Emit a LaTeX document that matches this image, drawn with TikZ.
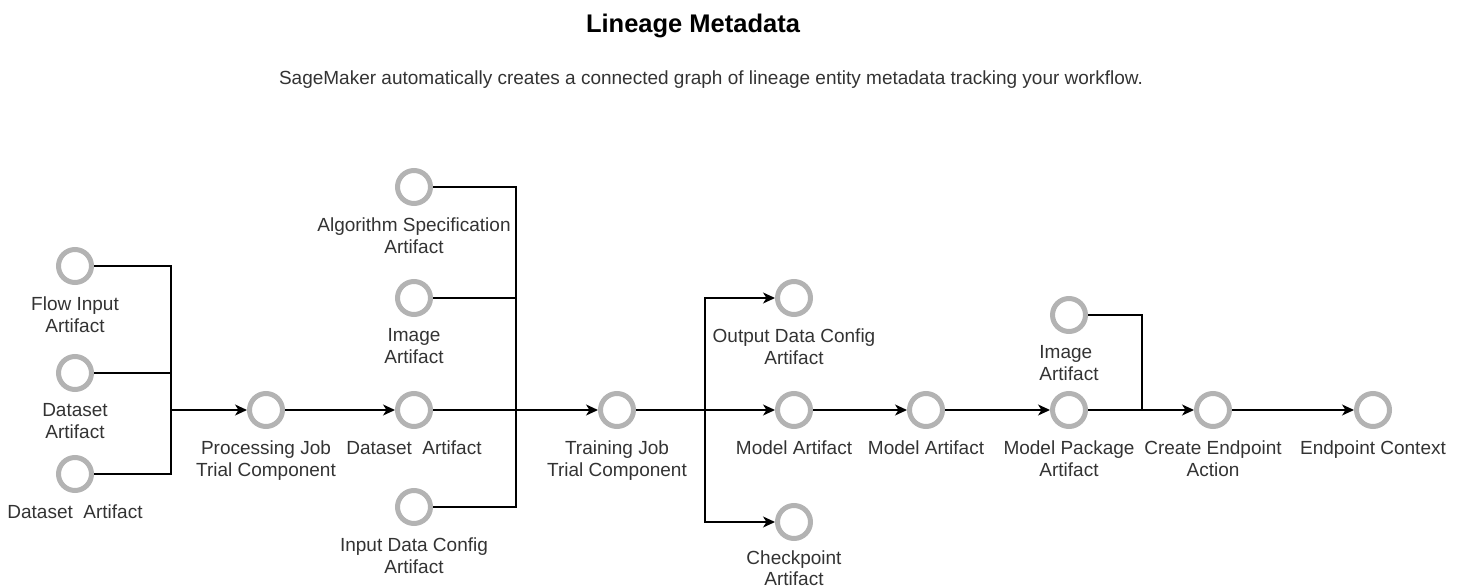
\documentclass[tikz,border=0pt]{standalone}
\usepackage{fontspec}
\setmainfont{Liberation Sans}
\usetikzlibrary{positioning,arrows.meta}
\definecolor{ringgray}{RGB}{179,179,179}
\definecolor{labelgray}{RGB}{51,51,51}
\begin{document}
\begin{tikzpicture}[x=1pt, y=-1pt, line width=1.5pt,
  ring/.style={circle, draw=ringgray, fill=white, line width=5pt, minimum size=33pt, inner sep=0pt},
  lbl/.style={below=11pt of #1, align=center, inner sep=0pt, text=labelgray, font=\fontsize{19}{22}\selectfont},
  arr/.style={-{Stealth[length=12pt, width=11pt, inset=3.5pt]}}]
  \useasboundingbox (0,0) rectangle (1465,588);
  \node[anchor=base, font=\fontsize{25.5}{30}\selectfont\bfseries] (title) at (693,33) {Lineage Metadata};
  \node[anchor=base, text=labelgray, font=\fontsize{19}{22}\selectfont] (subtitle) at (711,85) {SageMaker automatically creates a connected graph of lineage entity metadata tracking your workflow.};
  \node[ring] (fi) at (75,266) {};
  \node[ring] (ds1) at (75,373) {};
  \node[ring] (ds2) at (75,474) {};
  \node[ring] (pj) at (266,410) {};
  \node[ring] (alg) at (414,187) {};
  \node[ring] (img1) at (414,298) {};
  \node[ring] (ds3) at (414,410) {};
  \node[ring] (idc) at (414,507) {};
  \node[ring] (tj) at (617,410) {};
  \node[ring] (odc) at (794,298) {};
  \node[ring] (ma1) at (794,410) {};
  \node[ring] (cp) at (794,522) {};
  \node[ring] (ma2) at (926,410) {};
  \node[ring] (img2) at (1069,315) {};
  \node[ring] (mp) at (1069,410) {};
  \node[ring] (ce) at (1213,410) {};
  \node[ring] (ec) at (1373,410) {};
  \node[lbl=fi] (fil) {Flow Input\\Artifact};
  \node[lbl=ds1] (ds1l) {Dataset\\Artifact};
  \node[lbl=ds2] (ds2l) {Dataset\ \ Artifact};
  \node[lbl=pj] (pjl) {Processing Job\\Trial Component};
  \node[lbl=alg] (algl) {Algorithm Specification\\Artifact};
  \node[lbl=img1] (img1l) {Image\\Artifact};
  \node[lbl=ds3] (ds3l) {Dataset\ \ Artifact};
  \node[lbl=idc] (idcl) {Input Data Config\\Artifact};
  \node[lbl=tj] (tjl) {Training Job\\Trial Component};
  \node[lbl=odc] (odcl) {Output Data Config\\Artifact};
  \node[lbl=ma1] (ma1l) {Model Artifact};
  \node[lbl=cp, yshift=2pt, font=\fontsize{19}{21}\selectfont] (cpl) {Checkpoint\\Artifact};
  \node[lbl=ma2] (ma2l) {Model Artifact};
  \node[lbl=img2, align=left] (img2l) {Image\\Artifact};
  \node[lbl=mp] (mpl) {Model Package\\Artifact};
  \node[lbl=ce] (cel) {Create Endpoint\\Action};
  \node[lbl=ec] (ecl) {Endpoint Context};
  \coordinate (j1) at (171,410);
  \draw (fi.east) -| (j1);
  \draw (ds1.east) -| (j1);
  \draw (ds2.east) -| (j1);
  \draw[arr] (j1) -- (pj);
  \draw[arr] (pj) -- (ds3);
  \coordinate (j2) at (516,410);
  \draw (alg.east) -| (j2);
  \draw (img1.east) -| (j2);
  \draw (idc.east) -| (j2);
  \draw[arr] (ds3) -- (tj);
  \coordinate (j3) at (705,410);
  \draw[arr] (tj) -- (ma1);
  \draw[arr] (j3) |- (odc);
  \draw[arr] (j3) |- (cp);
  \draw[arr] (ma1) -- (ma2);
  \draw[arr] (ma2) -- (mp);
  \coordinate (j4) at (1142,410);
  \draw (img2.east) -| (j4);
  \draw[arr] (mp) -- (ce);
  \draw[arr] (ce) -- (ec);
\end{tikzpicture}
\end{document}
